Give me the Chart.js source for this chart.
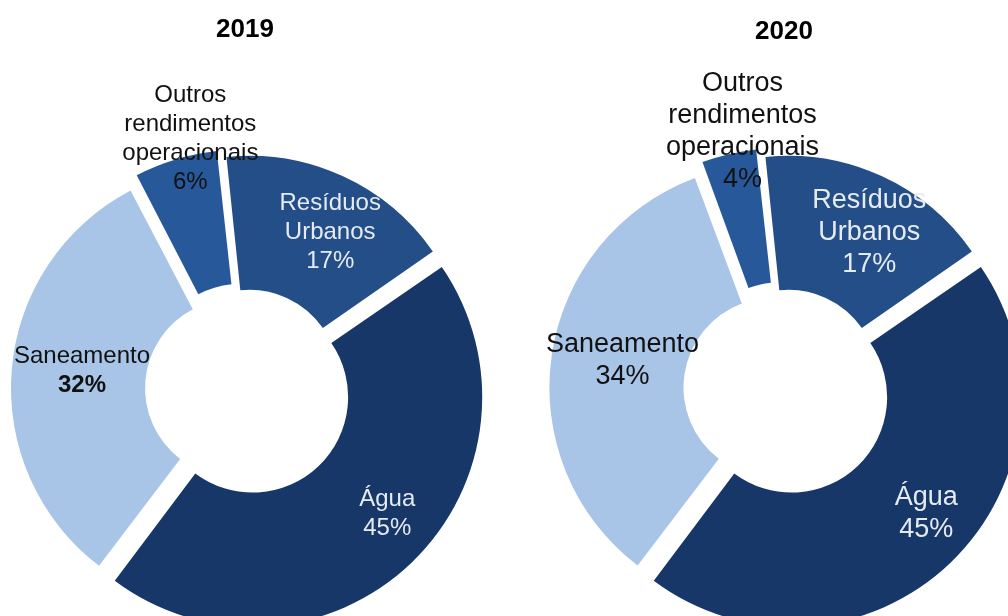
<!DOCTYPE html>
<html>
<head>
<meta charset="utf-8">
<script src="https://cdn.jsdelivr.net/npm/chart.js@4.4.0/dist/chart.umd.min.js"></script>
<style>
  html, body { margin: 0; padding: 0; background: #fff; overflow: hidden; width: 1008px; height: 616px; }
  canvas { position: absolute; top: 0; }
  #c2019 { left: 0; }
  #c2020 { left: 534px; }
</style>
</head>
<body>
<canvas id="c2019" width="490" height="733"></canvas>
<canvas id="c2020" width="500" height="731"></canvas>
<script>
// categorias (ordem no sentido dos ponteiros, a começar no topo)
const CATEGORIES = ['Resíduos Urbanos', 'Água', 'Saneamento', 'Outros rendimentos operacionais'];
const LABEL_LINES = [['Resíduos', 'Urbanos'], ['Água'], ['Saneamento'], ['Outros', 'rendimentos', 'operacionais']];
const YEARS = ['2019', '2020'];
const VALUES_2019 = [17, 45, 32, 6];
const VALUES_2020 = [17, 45, 34, 4];

const COLORS = ['#244e88', '#163767', '#a8c4e7', '#27599a'];
const TEXT_COLORS = ['#e6ebf2', '#e6ebf2', '#111', '#111'];
const FONT = '"Liberation Sans", Arial, sans-serif';

// onde ficam as etiquetas: desvio angular (graus) e distancia ao centro
const PLACEMENT = [
    { turn: 4, dist: 178, anchor: 'middle' },
    { turn: -5, dist: 189, anchor: 'middle' },
    { turn: 1.5, dist: 164, anchor: 'middle' },
    { turn: 2, dist: 214, anchor: 'bottom' }
];

const sliceLabels = {
    id: 'sliceLabels',
    afterDatasetsDraw(chart, args, opts) {
        const ctx = chart.ctx;
        const meta = chart.getDatasetMeta(0);
        const values = chart.data.datasets[0].data;
        ctx.save();
        ctx.textAlign = 'center';
        ctx.textBaseline = 'middle';
        meta.data.forEach((arc, i) => {
            const p = PLACEMENT[i];
            const a = (arc.startAngle + arc.endAngle) / 2 + p.turn * Math.PI / 180;
            const x = arc.x + Math.cos(a) * p.dist;
            const y = arc.y + Math.sin(a) * p.dist;
            const lines = LABEL_LINES[i].concat(values[i] + '%');
            const n = lines.length;
            let y0 = p.anchor === 'bottom' ? y - (n - 1) * opts.lineHeight : y - (n - 1) * opts.lineHeight / 2;
            ctx.fillStyle = TEXT_COLORS[i];
            lines.forEach((t, k) => {
                const bold = k === n - 1 && opts.boldPercent.includes(i);
                ctx.font = (bold ? 'bold ' : '') + opts.size + 'px ' + FONT;
                ctx.fillText(t, x, y0 + k * opts.lineHeight);
            });
        });
        ctx.restore();
    }
};

function makeChart(id, year, values, titleTop, labelOpts) {
    return new Chart(document.getElementById(id), {
        type: 'doughnut',
        data: {
            labels: CATEGORIES,
            datasets: [{
                data: values,
                backgroundColor: COLORS,
                borderWidth: 0,
                offset: 44
            }]
        },
        options: {
            responsive: false,
            animation: false,
            rotation: -6,
            radius: 222,
            cutout: '39.6%',
            layout: { padding: 0 },
            plugins: {
                legend: { display: false },
                tooltip: { enabled: false },
                title: {
                    display: true,
                    text: year,
                    color: '#000',
                    font: { family: FONT, size: 26, weight: 'bold' },
                    padding: { top: titleTop, bottom: 0 }
                },
                sliceLabels: labelOpts
            }
        },
        plugins: [sliceLabels]
    });
}

makeChart('c2019', YEARS[0], VALUES_2019, 14, { size: 24, lineHeight: 29, boldPercent: [2] });
makeChart('c2020', YEARS[1], VALUES_2020, 16, { size: 27, lineHeight: 32, boldPercent: [] });
</script>
</body>
</html>
